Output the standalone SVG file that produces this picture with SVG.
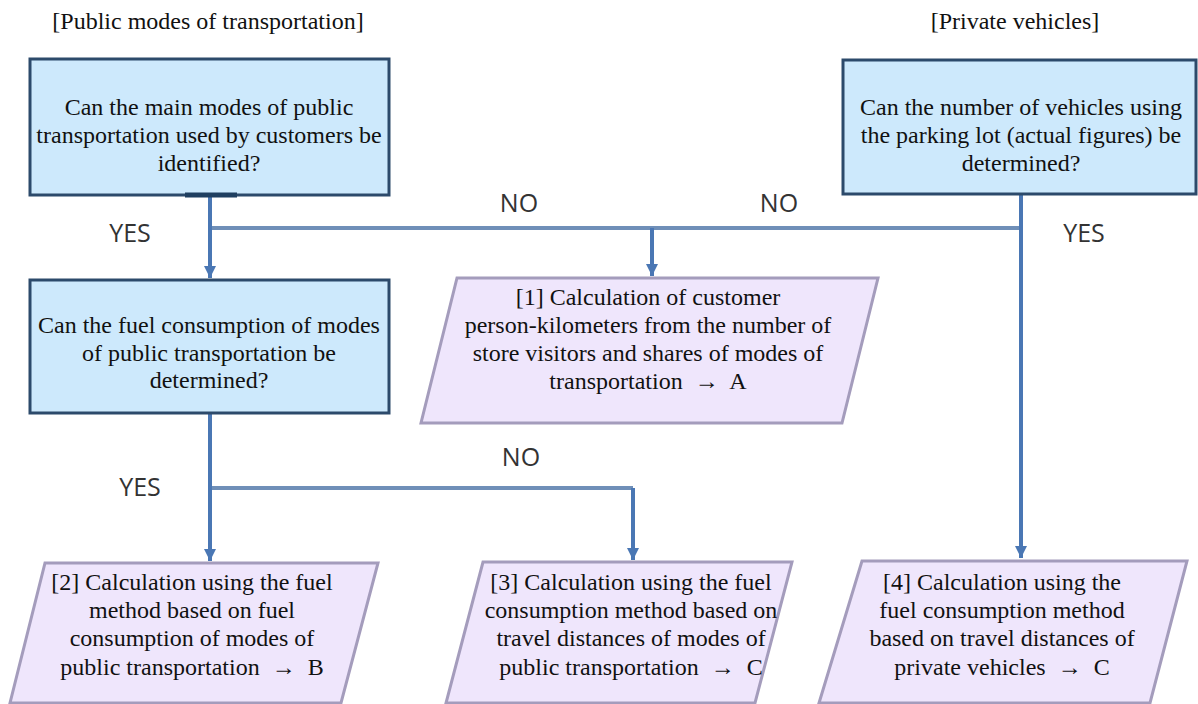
<svg xmlns="http://www.w3.org/2000/svg" width="1198" height="704" viewBox="0 0 1198 704">
  <defs>
    <style>
      .q { fill: #cde9fc; stroke: #2c4a6b; stroke-width: 3; }
      .p { fill: #efe6fc; stroke: #a49cbc; stroke-width: 3; stroke-linejoin: miter; }
      .lbl { font-family: "Open Sans", "Liberation Sans", sans-serif; font-size: 25px; fill: #333; text-anchor: middle; }
      .v { fill: none; stroke: #4a77b4; stroke-width: 4; }
      .hz { fill: none; stroke: #6f8fb8; stroke-width: 4; }
    </style>
    <marker id="arr" markerUnits="userSpaceOnUse" markerWidth="14" markerHeight="14" refX="12" refY="7" orient="auto">
      <path d="M0,1 L12,7 L0,13 z" fill="#4a77b4"/>
    </marker>
  </defs>
  <rect width="1198" height="704" fill="#ffffff"/>

  <g font-family="Liberation Serif, Tinos, Times New Roman, DejaVu Serif, serif" font-size="24" fill="#111" text-anchor="middle">
    <g id="headers">
      <text x="208" y="29">[Public modes of transportation]</text>
      <text x="1015" y="29">[Private vehicles]</text>
    </g>
  </g>

  <g id="connectors">
    <path class="hz" d="M210,228 H1021"/>
    <path class="hz" d="M210,488 H633"/>
    <path class="v" d="M210,196 V278" marker-end="url(#arr)"/>
    <path class="v" d="M652,228 V276" marker-end="url(#arr)"/>
    <path class="v" d="M1021,195 V558" marker-end="url(#arr)"/>
    <path class="v" d="M210,413 V561" marker-end="url(#arr)"/>
    <path class="v" d="M633,488 V560" marker-end="url(#arr)"/>
  </g>

  <g id="labels">
    <text class="lbl" x="130" y="242">YES</text>
    <text class="lbl" x="519" y="212">NO</text>
    <text class="lbl" x="779" y="212">NO</text>
    <text class="lbl" x="1084" y="242">YES</text>
    <text class="lbl" x="140" y="496">YES</text>
    <text class="lbl" x="521" y="466">NO</text>
  </g>

  <g font-family="Liberation Serif, Tinos, Times New Roman, DejaVu Serif, serif" font-size="24" fill="#111" text-anchor="middle">
  <g id="q1">
    <rect class="q" x="30" y="59" width="359" height="136"/>
    <line x1="185" y1="195" x2="237" y2="195" stroke="#1f3f60" stroke-width="5"/>
    <text x="209" y="115">Can the main modes of public</text>
    <text x="209" y="143">transportation used by customers be</text>
    <text x="209" y="171">identified?</text>
  </g>

  <g id="q2">
    <rect class="q" x="30" y="280" width="359" height="133"/>
    <text x="209" y="333">Can the fuel consumption of modes</text>
    <text x="209" y="361">of public transportation be</text>
    <text x="209" y="388">determined?</text>
  </g>

  <g id="q3">
    <rect class="q" x="843" y="60" width="353" height="134"/>
    <text x="1021" y="115">Can the number of vehicles using</text>
    <text x="1021" y="143">the parking lot (actual figures) be</text>
    <text x="1021" y="171">determined?</text>
  </g>

  <g id="p1">
    <polygon class="p" points="457,278 878,278 842,423 421,423"/>
    <text x="648" y="305">[1] Calculation of customer</text>
    <text x="648" y="333">person-kilometers from the number of</text>
    <text x="648" y="361">store visitors and shares of modes of</text>
    <text x="648" y="389" xml:space="preserve">transportation  →  A</text>
  </g>

  <g id="p2">
    <polygon class="p" points="45,563 378,563 341,703 10,703"/>
    <text x="192" y="590">[2] Calculation using the fuel</text>
    <text x="192" y="618">method based on fuel</text>
    <text x="192" y="646">consumption of modes of</text>
    <text x="192" y="675" xml:space="preserve">public transportation  →  B</text>
  </g>

  <g id="p3">
    <polygon class="p" points="483,562 792,562 755,703 446,703"/>
    <text x="631" y="590">[3] Calculation using the fuel</text>
    <text x="631" y="618">consumption method based on</text>
    <text x="631" y="646">travel distances of modes of</text>
    <text x="631" y="675" xml:space="preserve">public transportation  →  C</text>
  </g>

  <g id="p4">
    <polygon class="p" points="862,561 1187,561 1150,703 819,703"/>
    <text x="1002" y="590">[4] Calculation using the</text>
    <text x="1002" y="618">fuel consumption method</text>
    <text x="1002" y="646">based on travel distances of</text>
    <text x="1002" y="675" xml:space="preserve">private vehicles  →  C</text>
  </g>
  </g>
</svg>
